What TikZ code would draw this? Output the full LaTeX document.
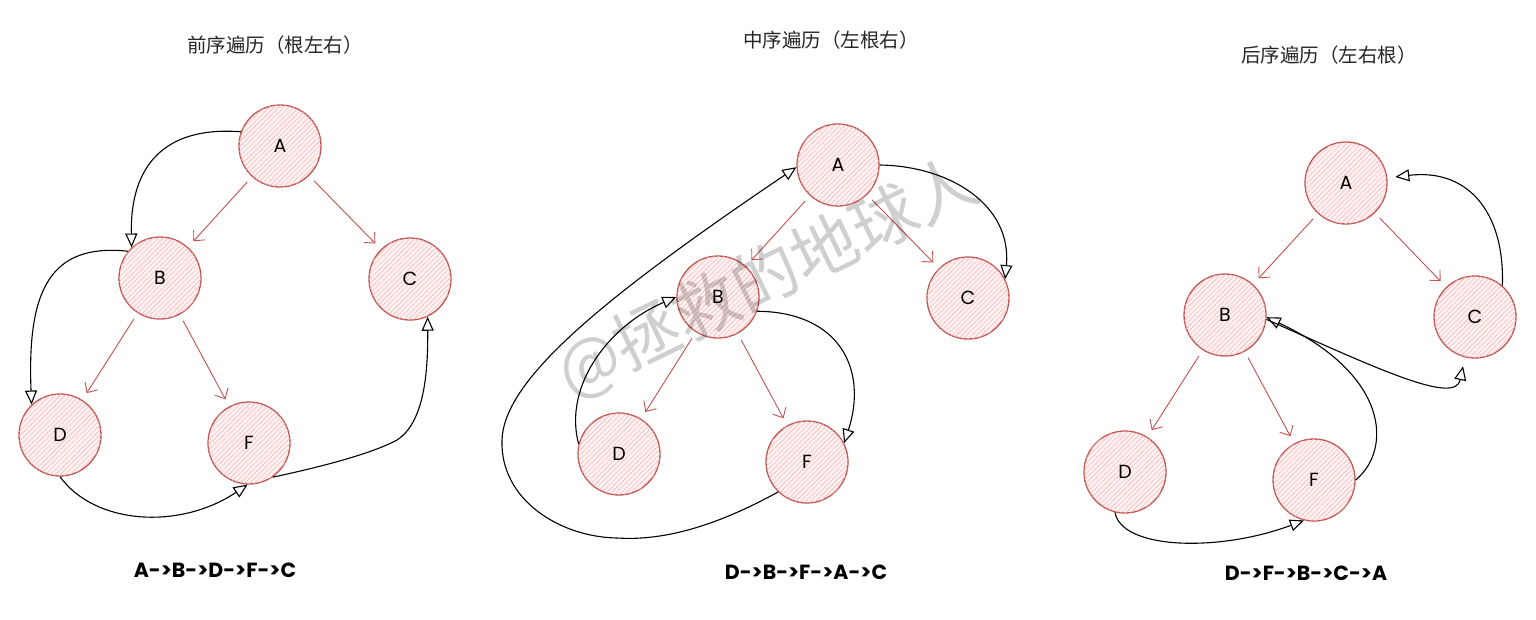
\documentclass[tikz,border=0pt]{standalone}
\usepackage{fontspec}
\setmainfont{Poppins}
\newfontfamily\cjk{Noto Sans CJK SC}
\usetikzlibrary{arrows.meta,patterns.meta}
\definecolor{nodered}{RGB}{192,84,80}
\definecolor{hatch}{RGB}{248,185,185}
\definecolor{hatchbg}{RGB}{255,242,242}
\begin{document}
\begin{tikzpicture}[x=1pt,y=-1pt,
  tnode/.style={circle, draw=nodered, line width=1.3pt, minimum size=82pt, inner sep=0pt,
     fill=hatchbg, postaction={pattern={Lines[angle=45,distance=3.5pt,line width=0.6pt]}, pattern color=hatch},
     font=\fontsize{19}{19}\selectfont},
  tedge/.style={draw=nodered, line width=0.9pt, -{Straight Barb[length=8pt,width=15pt]}, shorten <=7pt, shorten >=8pt},
  trav/.style={draw=black, line width=1.1pt, -{Triangle[open,length=14pt,width=12pt,fill=white]}},
  title/.style={font=\cjk\fontsize{19.5}{19.5}\selectfont, text=black!85},
  seq/.style={font=\fontsize{20.5}{20.5}\selectfont\bfseries}
]
\useasboundingbox[fill=white] (0,0) rectangle (1536,619);

% ---------- titles ----------
\node[title] (t1) at (275,45) {前序遍历（根左右）};
\node[title] (t2) at (831,40) {中序遍历（左根右）};
\node[title] (t3) at (1329,55) {后序遍历（左右根）};

% ---------- diagram 1 : preorder ----------
\node[tnode] (a1) at (280,146) {A};
\node[tnode] (b1) at (160,278) {B};
\node[tnode] (c1) at (410,279) {C};
\node[tnode] (d1) at (60,435) {D};
\node[tnode] (f1) at (249,443) {F};
\draw[tedge] (a1) -- (b1);
\draw[tedge] (a1) -- (c1);
\draw[tedge] (b1) -- (d1);
\draw[tedge] (b1) -- (f1);
\draw[trav] (a1.160) .. controls (165,126) and (130,165) .. (b1.133);
\draw[trav] (b1.140) .. controls (50,243) and (27,290) .. (d1.133);
\draw[trav] (d1.270) .. controls (95,525) and (180,530) .. (f1.268);
\draw[trav] (f1.305) .. controls (330,465) and (375,452) .. (397,440) .. controls (425,422) and (428,370) .. (c1.295);
\node[seq] (s1) at (215,570) {A->B->D->F->C};

% ---------- diagram 2 : inorder ----------
\node[tnode] (a2) at (838,165) {A};
\node[tnode] (b2) at (718,297) {B};
\node[tnode] (c2) at (968,298) {C};
\node[tnode] (d2) at (619,454) {D};
\node[tnode] (f2) at (807,462) {F};
\draw[tedge] (a2) -- (b2);
\draw[tedge] (a2) -- (c2);
\draw[tedge] (b2) -- (d2);
\draw[tedge] (b2) -- (f2);
\draw[trav] (d2.166) .. controls (563,385) and (610,325) .. (b2.180);
\draw[trav] (b2.340) .. controls (840,312) and (868,370) .. (f2.27);
\draw[trav] (f2.226) .. controls (700,535) and (650,540) .. (617,538) .. controls (560,537) and (500,500) .. (502,440) .. controls (504,380) and (600,300) .. (a2.183);
\draw[trav] (a2.0) .. controls (950,166) and (1012,205) .. (c2.27);
\node[seq] (s2) at (806,572) {D->B->F->A->C};

% ---------- diagram 3 : postorder ----------
\node[tnode] (a3) at (1346,183) {A};
\node[tnode] (b3) at (1225,315) {B};
\node[tnode] (c3) at (1475,317) {C};
\node[tnode] (d3) at (1125,472) {D};
\node[tnode] (f3) at (1314,480) {F};
\draw[tedge] (a3) -- (b3);
\draw[tedge] (a3) -- (c3);
\draw[tedge] (b3) -- (d3);
\draw[tedge] (b3) -- (f3);
\draw[trav] (d3.256) .. controls (1122,550) and (1220,552) .. (f3.256);
\draw[trav] (f3.0) .. controls (1392,450) and (1390,375) .. (b3.357);
\draw[trav, shorten >=9pt] (b3.354) .. controls (1380,370) and (1455,405) .. (c3.256);
\draw[trav, shorten >=8pt] (c3.49) .. controls (1505,215) and (1470,168) .. (a3.7);
\node[seq] (s3) at (1306,573) {D->F->B->C->A};

% ---------- watermark ----------
\node[rotate=26, text=black, opacity=0.19, font=\cjk\fontsize{66}{66}\selectfont] (wm) at (768,278) {@拯救的地球人};
\end{tikzpicture}
\end{document}
